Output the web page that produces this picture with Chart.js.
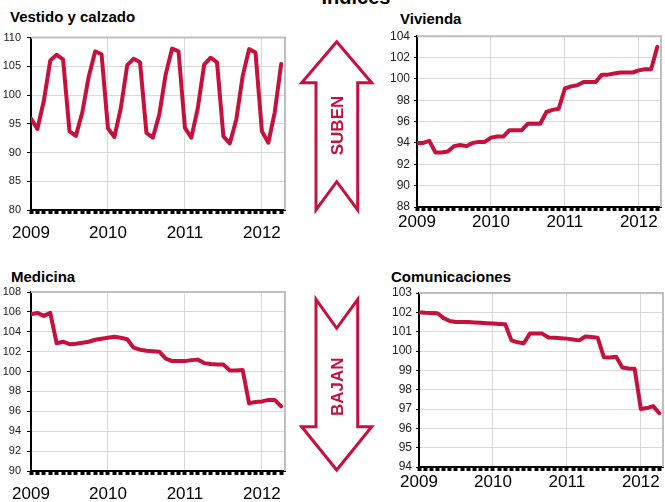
<!DOCTYPE html>
<html>
<head>
<meta charset="utf-8">
<script src="https://cdn.jsdelivr.net/npm/chart.js@4/dist/chart.umd.min.js"></script>
<style>
  body { margin: 0; background: #fff; font-family: "Liberation Sans", Arial, sans-serif; }
  #wrap { position: relative; width: 665px; height: 502px; overflow: hidden; }
  canvas { position: absolute; }
  .t { position: absolute; font-weight: bold; font-size: 15px; line-height: 15px; color: #000; white-space: nowrap; }
  svg { position: absolute; left: 0; top: 0; }
</style>
</head>
<body>
<div id="wrap">
  <div class="t" style="left:0;width:712px;text-align:center;top:-13px;font-size:20px;line-height:20px">Índices</div>
  <div class="t" style="left:10px;top:9px">Vestido y calzado</div>
  <div class="t" style="left:400px;top:11px">Vivienda</div>
  <div class="t" style="left:11px;top:269px">Medicina</div>
  <div class="t" style="left:391px;top:269px">Comunicaciones</div>

  <canvas id="c1" width="300" height="225" style="left:0;top:25px"></canvas>
  <canvas id="c2" width="295" height="225" style="left:370px;top:25px"></canvas>
  <canvas id="c3" width="300" height="237" style="left:0;top:265px"></canvas>
  <canvas id="c4" width="295" height="237" style="left:370px;top:265px"></canvas>

  <svg width="665" height="502">
    <g fill="#fff" stroke="#c8103c" stroke-width="3" stroke-linejoin="miter">
      <polygon points="336.7,41.7 371.7,82.7 357.7,82.7 357.7,210 336.7,181.7 316,210 316,82.7 301.7,82.7"/>
      <polygon points="316,299.3 336.7,328.3 357.7,299.3 357.7,426.7 371.7,426.7 336.7,470 301.7,426.7 316,426.7"/>
    </g>
    <g fill="#c8103c" font-family="Liberation Sans, Arial, sans-serif" font-weight="bold" font-size="17" text-anchor="middle" dominant-baseline="central">
      <text transform="translate(337,125.5) rotate(-90)">SUBEN</text>
      <text transform="translate(337,386.7) rotate(-90)">BAJAN</text>
    </g>
  </svg>
</div>

<script>
// months from Jan 2009 to Apr 2012
const years = ["2009", "2010", "2011", "2012"];
const months = [...Array(40).keys()];

const vestido = [95.9, 94.1, 99.0, 106.0, 107.0, 106.2, 93.7, 92.9, 97.0, 103.2, 107.6, 107.1,
  94.2, 92.7, 97.7, 105.2, 106.3, 105.7, 93.4, 92.6, 96.6, 103.6, 108.1, 107.6,
  94.3, 92.6, 97.7, 105.3, 106.5, 105.7, 92.8, 91.6, 95.7, 103.3, 108.0, 107.4,
  93.7, 91.7, 97.0, 105.4];

const vivienda = [94.0, 94.0, 94.2, 93.1, 93.1, 93.2, 93.7, 93.8, 93.7, 94.0, 94.1, 94.1,
  94.5, 94.6, 94.6, 95.2, 95.2, 95.2, 95.8, 95.8, 95.8, 96.9, 97.1, 97.2,
  99.1, 99.3, 99.4, 99.7, 99.7, 99.7, 100.4, 100.4, 100.5, 100.6, 100.6, 100.6,
  100.8, 100.9, 100.9, 103.0];

const medicina = [105.75, 105.9, 105.6, 105.9, 102.85, 103.0, 102.75, 102.8, 102.9, 103.0, 103.2, 103.3,
  103.4, 103.5, 103.4, 103.25, 102.4, 102.2, 102.1, 102.05, 102.0, 101.3, 101.05, 101.05,
  101.05, 101.15, 101.2, 100.85, 100.75, 100.7, 100.7, 100.1, 100.1, 100.15, 96.8, 96.95,
  97.0, 97.15, 97.15, 96.5];

const comunicaciones = [102.0, 101.98, 101.97, 101.95, 101.7, 101.55, 101.5, 101.5, 101.5, 101.48, 101.46, 101.44,
  101.42, 101.4, 101.38, 100.55, 100.45, 100.4, 100.9, 100.9, 100.9, 100.7, 100.68, 100.66,
  100.64, 100.6, 100.55, 100.75, 100.72, 100.68, 99.68, 99.66, 99.7, 99.15, 99.1, 99.08,
  97.0, 97.05, 97.15, 96.78];

const RED = "#c8103c";
const FONT = "'Liberation Sans', Arial, sans-serif";

// grey top/right border of the plot area
const frame = {
  id: "frame",
  beforeDatasetsDraw(chart) {
    const { ctx, chartArea: a } = chart;
    ctx.save();
    ctx.strokeStyle = "#bfbfbf";
    ctx.lineWidth = 2;
    ctx.beginPath();
    ctx.moveTo(a.left, a.top);
    ctx.lineTo(a.right, a.top);
    ctx.lineTo(a.right, a.bottom);
    ctx.stroke();
    ctx.restore();
  }
};

function makeChart(id, values, yMin, yMax, yStep, box) {
  new Chart(document.getElementById(id), {
    type: "line",
    data: {
      datasets: [{
        data: values.map((v, i) => ({ x: months[i], y: v })),
        borderColor: RED,
        borderWidth: 4,
        pointRadius: 0,
        tension: 0,
        borderCapStyle: "round",
        borderJoinStyle: "round"
      }]
    },
    options: {
      responsive: false,
      animation: false,
      devicePixelRatio: 1,
      layout: { padding: { left: 0, top: box.top, right: box.right, bottom: 0 } },
      plugins: { legend: { display: false }, tooltip: { enabled: false } },
      scales: {
        x: {
          type: "linear",
          min: 0,
          max: 39.6,
          afterBuildTicks: s => { s.ticks = months.map(v => ({ value: v })); },
          afterFit: s => { s.height = box.xH; },
          ticks: {
            autoSkip: false,
            maxRotation: 0,
            padding: box.xPad,
            color: "#000",
            font: { family: FONT, size: 17 },
            callback: v => (v % 12 === 0 ? years[v / 12] : "")
          },
          grid: {
            color: c => (c.tick && c.tick.value % 12 === 0 && c.tick.value > 0 ? "#d9d9d9" : "rgba(0,0,0,0)"),
            lineWidth: 1,
            tickColor: "#000",
            tickLength: 4,
            tickWidth: 4
          },
          border: { color: "#000", width: 2 }
        },
        y: {
          min: yMin,
          max: yMax,
          afterFit: s => { s.width = box.yW; },
          ticks: {
            stepSize: yStep,
            padding: box.yPad,
            color: "#222",
            font: { family: FONT, size: box.yFont }
          },
          grid: {
            color: "#d9d9d9",
            lineWidth: 1,
            tickColor: "#000",
            tickLength: box.yTick,
            tickWidth: 1
          },
          border: { color: "#000", width: 2 }
        }
      }
    },
    plugins: [frame]
  });
}

makeChart("c1", vestido, 80, 110, 5, { top: 6, right: 15, yW: 31, xH: 40, xPad: 9, yFont: 11, yPad: 6, yTick: 4 });
makeChart("c2", vivienda, 88, 104, 2, { top: 8, right: 4, yW: 47, xH: 43, xPad: 1, yFont: 12, yPad: 4, yTick: 3 });
makeChart("c3", medicina, 90, 108, 2, { top: 27, right: 15, yW: 31, xH: 31, xPad: 9, yFont: 11, yPad: 6, yTick: 4 });
makeChart("c4", comunicaciones, 94, 103, 1, { top: 28, right: 2, yW: 49, xH: 35, xPad: 1, yFont: 12, yPad: 4, yTick: 3 });
</script>
</body>
</html>
